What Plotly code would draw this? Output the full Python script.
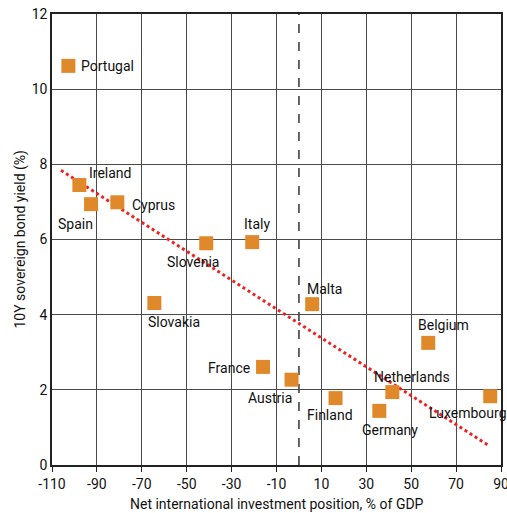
import plotly.graph_objects as go

countries = ["Portugal", "Ireland", "Spain", "Cyprus", "Slovenia", "Italy", "Slovakia",
             "France", "Austria", "Malta", "Finland", "Germany", "Netherlands", "Belgium", "Luxembourg"]
niip = [-102.7, -97.8, -92.6, -80.9, -41.3, -20.8, -64.4, -16.0, -3.3, 5.9, 16.3, 35.8, 41.6, 57.6, 85.2]
yields = [10.62, 7.45, 6.94, 6.99, 5.90, 5.93, 4.31, 2.61, 2.27, 4.28, 1.78, 1.44, 1.94, 3.25, 1.83]

trend_x = [-106, 85]
trend_y = [7.84, 0.5]

x_ticks = list(range(-110, 91, 20))
x_ticktext = [str(v) for v in x_ticks]
y_ticks = list(range(0, 13, 2))
y_ticktext = [str(v) for v in y_ticks]

x_title = "Net international investment position, % of GDP"
y_title = "10Y sovereign bond yield (%)"

# label placement: (xanchor, yanchor, xshift, yshift)
label_pos = {
    "Portugal": ("left", "middle", 11, 0),
    "Ireland": ("left", "middle", 8, 12),
    "Spain": ("left", "middle", -35, -20),
    "Cyprus": ("left", "middle", 13, -3),
    "Slovenia": ("left", "middle", -41, -19),
    "Italy": ("left", "middle", -10, 18),
    "Slovakia": ("left", "middle", -8, -19),
    "France": ("right", "middle", -11, -1),
    "Austria": ("right", "middle", 2, -18),
    "Malta": ("left", "middle", -7, 15),
    "Finland": ("left", "middle", -31, -17),
    "Germany": ("left", "middle", -19, -19),
    "Netherlands": ("left", "middle", -20, 15),
    "Belgium": ("left", "middle", -12, 18),
    "Luxembourg": ("left", "middle", -63, -17),
}

FONT = "Roboto"
orange = "#e0892b"

fig = go.Figure()
fig.add_trace(go.Scatter(x=trend_x, y=trend_y, mode="lines",
                         line=dict(color="#ee2222", width=3, dash="dot"),
                         hoverinfo="skip", showlegend=False))
fig.add_trace(go.Scatter(x=niip, y=yields, mode="markers",
                         marker=dict(symbol="square", size=14, color=orange, line=dict(width=0)),
                         showlegend=False))

for c, xv, yv in zip(countries, niip, yields):
    xa, ya, xs, ys = label_pos[c]
    fig.add_annotation(x=xv, y=yv, text=c, showarrow=False, xanchor=xa, yanchor=ya,
                       xshift=xs, yshift=ys, font=dict(family=FONT, size=14, color="#111"))

fig.add_shape(type="line", x0=0, x1=0, y0=0, y1=12, xref="x", yref="y",
              line=dict(color="#333", width=1.5, dash="dash"), layer="below")

# axis titles
fig.add_annotation(x=0.5, y=0, xref="paper", yref="paper", yshift=-39, text=x_title,
                   showarrow=False, xanchor="center", yanchor="middle",
                   font=dict(family=FONT, size=14, color="#111"))
fig.add_annotation(x=0, y=0.5, xref="paper", yref="paper", xshift=-32, text=y_title,
                   showarrow=False, xanchor="center", yanchor="middle", textangle=-90,
                   font=dict(family=FONT, size=14, color="#111"))

fig.update_layout(
    width=507, height=513,
    margin=dict(l=52, r=6, t=14, b=48),
    paper_bgcolor="white", plot_bgcolor="white",
    font=dict(family=FONT, size=14, color="#111"),
    xaxis=dict(range=[-110, 90], tickvals=x_ticks, ticktext=x_ticktext, showgrid=True,
               gridcolor="#4a4a4a", gridwidth=1.2, automargin=False, ticklabeloverflow="allow",
               zeroline=False, showline=True, linecolor="#222", linewidth=1.5, mirror=True,
               ticks="outside", ticklen=5, tickcolor="#222"),
    yaxis=dict(range=[0, 12], tickvals=y_ticks, ticktext=y_ticktext, showgrid=True,
               gridcolor="#4a4a4a", gridwidth=1.2, automargin=False,
               zeroline=False, showline=True, linecolor="#222", linewidth=1.5, mirror=True,
               ticks=""),
)

fig.write_html("out.html", config={"displayModeBar": False},
               post_script="document.body.style.margin='0px';document.body.style.overflow='hidden';")
